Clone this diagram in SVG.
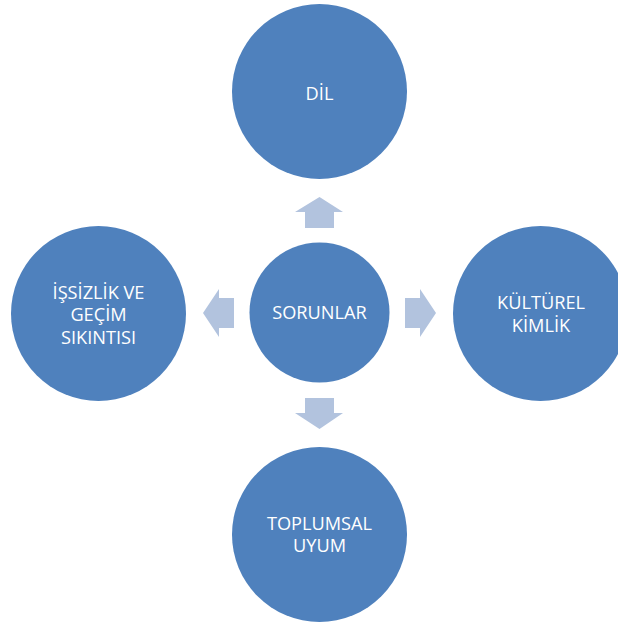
<svg xmlns="http://www.w3.org/2000/svg" width="618" height="622" viewBox="0 0 618 622">
<style>
.c{fill:#4F81BD}
.a{fill:#B2C3DE}
.t{fill:#FFFFFF;font-family:"Open Sans","Liberation Sans",sans-serif;font-size:18.2px;text-anchor:middle}
</style>
<rect width="618" height="622" fill="#FFFFFF"/>
<g id="connectors">
<polygon class="a" points="319.5,197 343,212 334,212 334,228 305,228 305,212 295,212"/>
<polygon class="a" points="319.5,429 343,413 334,413 334,398 305,398 305,413 295,413"/>
<polygon class="a" points="436,313 420,289 420,298 405,298 405,328 420,328 420,337"/>
<polygon class="a" points="203,313 219,289 219,298 234,298 234,328 219,328 219,337"/>
</g>
<g id="node-sorunlar">
<circle class="c" cx="319.5" cy="312.5" r="70"/>
<text class="t" x="319.5" y="318.5">SORUNLAR</text>
</g>
<g id="node-dil">
<circle class="c" cx="319.5" cy="91.5" r="87.5"/>
<text class="t" x="319.5" y="99.5">DİL</text>
</g>
<g id="node-kulturel">
<circle class="c" cx="540.5" cy="313.5" r="87.5"/>
<text class="t" x="541" y="308.5">KÜLTÜREL</text>
<text class="t" x="541" y="331.5">KİMLİK</text>
</g>
<g id="node-toplumsal">
<circle class="c" cx="319.5" cy="534.5" r="87.5"/>
<text class="t" x="319.5" y="529.5">TOPLUMSAL</text>
<text class="t" x="319.5" y="551.5">UYUM</text>
</g>
<g id="node-issizlik">
<circle class="c" cx="98.5" cy="313.5" r="87.5"/>
<text class="t" x="98.5" y="298.5">İŞSİZLİK VE</text>
<text class="t" x="98.5" y="321">GEÇİM</text>
<text class="t" x="98.5" y="343.5">SIKINTISI</text>
</g>
</svg>
